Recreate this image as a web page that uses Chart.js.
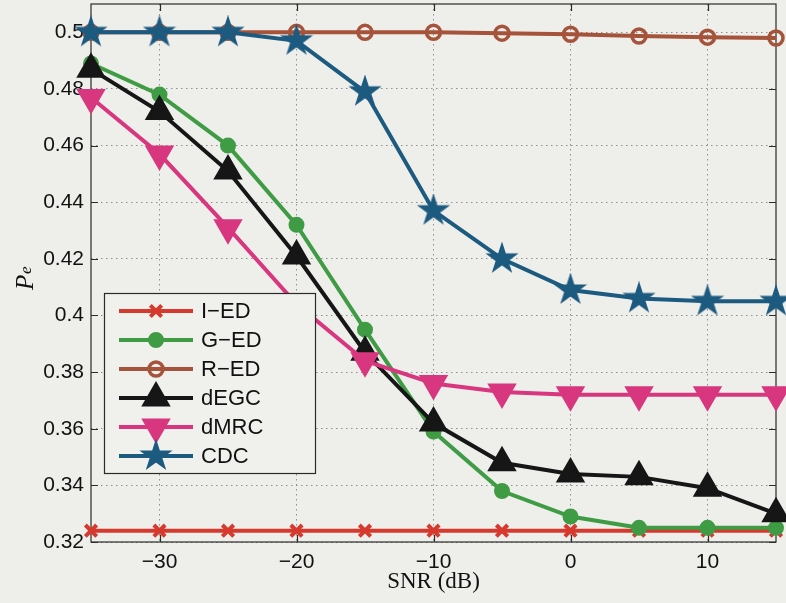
<!DOCTYPE html>
<html>
<head>
<meta charset="utf-8">
<script src="https://cdn.jsdelivr.net/npm/chart.js@4.4.1/dist/chart.umd.min.js"></script>
<style>
  html, body { margin: 0; padding: 0; background: #eeeeea; }
  #wrap { width: 786px; height: 603px; }
</style>
</head>
<body>
<div id="wrap"><canvas id="myChart" width="786" height="603"></canvas></div>
<script>
// SNR in dB and error probability for each detector
var snr = [-35, -30, -25, -20, -15, -10, -5, 0, 5, 10, 15];
var iED = [0.324, 0.324, 0.324, 0.324, 0.324, 0.324, 0.324, 0.324, 0.324, 0.324, 0.324];
var gED = [0.489, 0.478, 0.460, 0.432, 0.395, 0.359, 0.338, 0.329, 0.325, 0.325, 0.325];
var rED = [0.500, 0.500, 0.500, 0.500, 0.500, 0.500, 0.4997, 0.4993, 0.4987, 0.4983, 0.498];
var dEGC = [0.487, 0.472, 0.451, 0.421, 0.387, 0.362, 0.348, 0.344, 0.343, 0.339, 0.330];
var dMRC = [0.477, 0.457, 0.431, 0.404, 0.384, 0.376, 0.373, 0.372, 0.372, 0.372, 0.372];
var cdc = [0.500, 0.500, 0.500, 0.497, 0.479, 0.437, 0.420, 0.409, 0.406, 0.405, 0.405];

var labels = ["I\u2212ED", "G\u2212ED", "R\u2212ED", "dEGC", "dMRC", "CDC"];
var xTicks = [-30, -20, -10, 0, 10];
var yTicks = [0.32, 0.34, 0.36, 0.38, 0.40, 0.42, 0.44, 0.46, 0.48, 0.50];

var tickFont = { family: "'Liberation Sans', Arial, sans-serif", size: 21 };

function makeStar(color, R) {
    var size = Math.ceil(2 * R + 4);
    var c = document.createElement("canvas");
    c.width = size;
    c.height = size;
    var g = c.getContext("2d");
    var cx = size / 2, cy = size / 2;
    g.beginPath();
    for (var i = 0; i < 10; i++) {
        var r = i % 2 ? R * 0.382 : R;
        var a = -Math.PI / 2 + i * Math.PI / 5;
        g.lineTo(cx + r * Math.cos(a), cy + r * Math.sin(a));
    }
    g.closePath();
    g.fillStyle = color;
    g.fill();
    g.lineWidth = 1.5;
    g.strokeStyle = color;
    g.stroke();
    return c;
}

var colors = ["#d6392e", "#3f9c45", "#a5533a", "#161616", "#d8377f", "#1d5a80"];
var starImg = makeStar(colors[5], 15);

var series = [iED, gED, rED, dEGC, dMRC, cdc];
var markers = [
    { pointStyle: "crossRot", radius: 8, borderWidth: 4, fill: colors[0], rotation: 0 },
    { pointStyle: "circle", radius: 7, borderWidth: 2, fill: colors[1], rotation: 0 },
    { pointStyle: "circle", radius: 7, borderWidth: 3.5, fill: "rgba(0,0,0,0)", rotation: 0 },
    { pointStyle: "triangle", radius: 15, borderWidth: 2, fill: colors[3], rotation: 0 },
    { pointStyle: "triangle", radius: 15, borderWidth: 2, fill: colors[4], rotation: 180 },
    { pointStyle: starImg, radius: 15, borderWidth: 0, fill: colors[5], rotation: 0 },
];

var datasets = series.map(function (vals, i) {
    return {
        label: labels[i],
        data: vals.map(function (v, j) { return { x: snr[j], y: v }; }),
        borderColor: colors[i],
        backgroundColor: colors[i],
        borderWidth: 4,
        tension: 0,
        clip: false,
        order: 6 - i,
        pointStyle: markers[i].pointStyle,
        pointRadius: markers[i].radius,
        pointHoverRadius: markers[i].radius,
        pointBorderWidth: markers[i].borderWidth,
        pointBackgroundColor: markers[i].fill,
        pointBorderColor: colors[i],
        pointRotation: markers[i].rotation,
    };
});

function drawMarker(ctx, m, color, x, y) {
    ctx.save();
    ctx.fillStyle = m.fill;
    ctx.strokeStyle = color;
    ctx.lineWidth = m.borderWidth;
    if (typeof m.pointStyle === "object") {
        ctx.drawImage(m.pointStyle, x - m.pointStyle.width / 2, y - m.pointStyle.height / 2);
    } else if (Chart.helpers && Chart.helpers.drawPoint) {
        Chart.helpers.drawPoint(ctx, { pointStyle: m.pointStyle, radius: m.radius, rotation: m.rotation, borderWidth: m.borderWidth }, x, y);
    }
    ctx.restore();
}

var framePlugin = {
    id: "frame",
    beforeDatasetsDraw: function (chart) {
        var a = chart.chartArea, ctx = chart.ctx;
        var xs = chart.scales.x, ys = chart.scales.y;
        ctx.save();
        ctx.strokeStyle = "#2b2b2b";
        ctx.lineWidth = 1.2;
        ctx.strokeRect(a.left, a.top, a.right - a.left, a.bottom - a.top);
        ctx.beginPath();
        xTicks.forEach(function (v) {
            var px = Math.round(xs.getPixelForValue(v)) + 0.5;
            ctx.moveTo(px, a.bottom); ctx.lineTo(px, a.bottom - 7);
            ctx.moveTo(px, a.top); ctx.lineTo(px, a.top + 7);
        });
        yTicks.forEach(function (v) {
            var py = Math.round(ys.getPixelForValue(v)) + 0.5;
            ctx.moveTo(a.left, py); ctx.lineTo(a.left + 7, py);
            ctx.moveTo(a.right, py); ctx.lineTo(a.right - 7, py);
        });
        ctx.stroke();
        ctx.restore();
    },
    afterDatasetsDraw: function (chart) {
        var ctx = chart.ctx;
        // legend box inside the plot
        var bx = 104, by = 293, bw = 211, bh = 180;
        ctx.save();
        ctx.fillStyle = "#f0f0ec";
        ctx.fillRect(bx, by, bw, bh);
        ctx.strokeStyle = "#2b2b2b";
        ctx.lineWidth = 1.2;
        ctx.strokeRect(bx + 0.5, by + 0.5, bw, bh);
        ctx.font = "22px 'Liberation Sans', Arial, sans-serif";
        ctx.textBaseline = "middle";
        ctx.textAlign = "left";
        for (var i = 0; i < labels.length; i++) {
            var y = by + 18 + i * 29;
            ctx.beginPath();
            ctx.strokeStyle = colors[i];
            ctx.lineWidth = 4;
            ctx.moveTo(119, y);
            ctx.lineTo(193, y);
            ctx.stroke();
            drawMarker(ctx, markers[i], colors[i], 156, y);
            ctx.fillStyle = "#111";
            ctx.fillText(labels[i], 201, y + 1);
        }
        ctx.restore();
    },
    afterDraw: function (chart) {
        var ctx = chart.ctx;
        ctx.save();
        ctx.translate(33, 290);
        ctx.rotate(-Math.PI / 2);
        ctx.fillStyle = "#111";
        ctx.textBaseline = "alphabetic";
        ctx.textAlign = "left";
        ctx.font = "italic 25px 'Liberation Serif', 'Times New Roman', serif";
        ctx.fillText("P", 0, 0);
        ctx.font = "italic 17px 'Liberation Serif', 'Times New Roman', serif";
        ctx.fillText("e", 16, -2);
        ctx.restore();
    },
};

var ctx = document.getElementById("myChart").getContext("2d");
var myChart = new Chart(ctx, {
    type: "line",
    data: { datasets: datasets },
    plugins: [framePlugin],
    options: {
        responsive: false,
        animation: false,
        layout: { autoPadding: false, padding: { top: 4, right: 10, left: 0, bottom: 0 } },
        plugins: {
            legend: { display: false },
            tooltip: { enabled: false },
        },
        scales: {
            x: {
                type: "linear",
                min: -35,
                max: 15,
                afterBuildTicks: function (scale) {
                    scale.ticks = xTicks.map(function (v) { return { value: v }; });
                },
                afterFit: function (scale) {
                    scale.height = 61;
                    scale.paddingLeft = 0;
                    scale.paddingRight = 0;
                },
                grid: { color: "#8f8f8f", lineWidth: 1, drawTicks: false },
                border: { display: false, dash: [1.5, 3.5] },
                ticks: {
                    padding: 8,
                    maxRotation: 0,
                    color: "#111",
                    font: tickFont,
                    callback: function (v) { return String(v).replace("-", "\u2212"); },
                },
                title: {
                    display: true,
                    text: "SNR (dB)",
                    color: "#111",
                    font: { family: "'Liberation Serif', 'Times New Roman', serif", size: 23 },
                    padding: { top: 0, bottom: 7 },
                },
            },
            y: {
                min: 0.32,
                max: 0.51,
                afterBuildTicks: function (scale) {
                    scale.ticks = yTicks.map(function (v) { return { value: v }; });
                },
                afterFit: function (scale) {
                    scale.width = 91;
                    scale.paddingTop = 0;
                    scale.paddingBottom = 0;
                },
                grid: { color: "#8f8f8f", lineWidth: 1, drawTicks: false },
                border: { display: false, dash: [1.5, 3.5] },
                ticks: {
                    padding: 7,
                    color: "#111",
                    font: tickFont,
                    callback: function (v) { return String(Number(v.toFixed(2))); },
                },
            },
        },
    },
});
</script>
</body>
</html>
